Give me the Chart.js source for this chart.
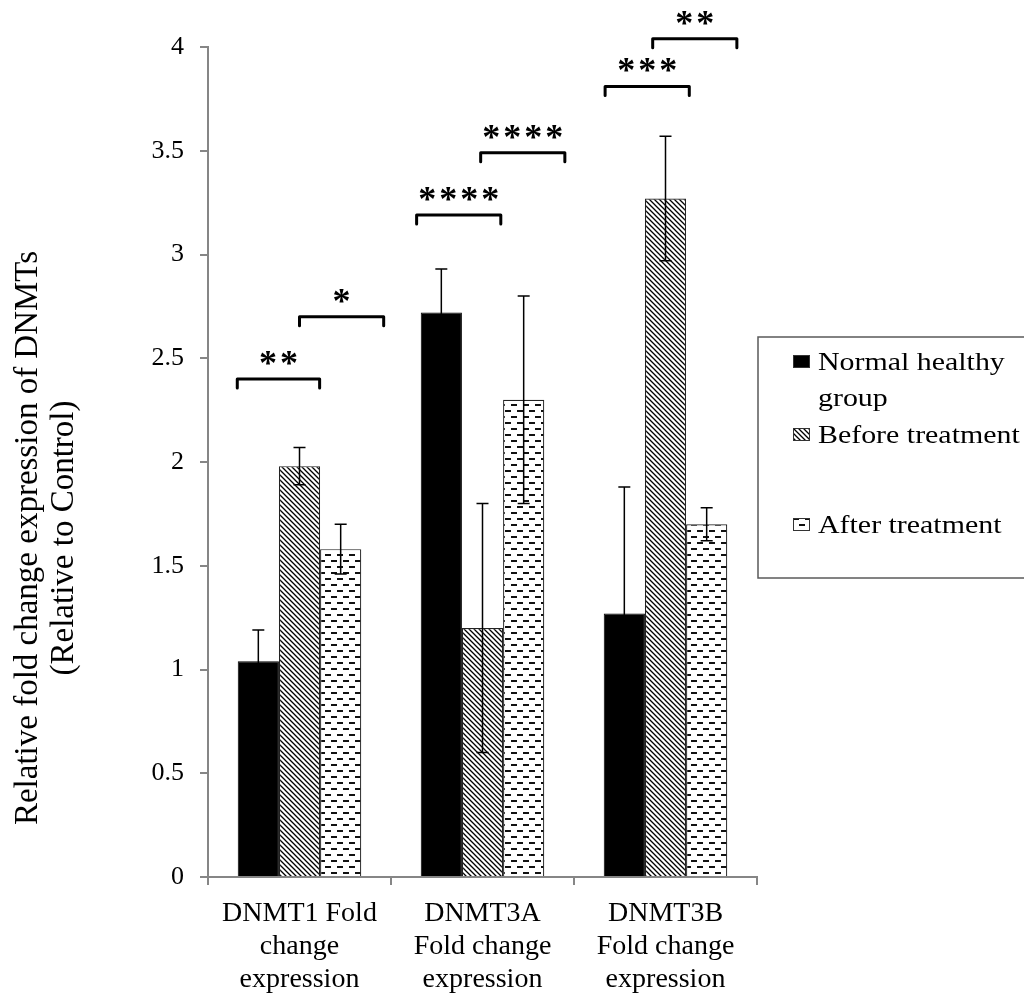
<!DOCTYPE html>
<html>
<head>
<meta charset="utf-8">
<title>DNMT fold change</title>
<script src="https://cdn.jsdelivr.net/npm/chart.js@4.4.1/dist/chart.umd.min.js"></script>
<style>
  html, body { margin: 0; padding: 0; background: #fff; }
  #wrap { width: 1024px; height: 999px; }
</style>
</head>
<body>
<div id="wrap"><canvas id="chart" width="1024" height="999"></canvas></div>
<script>
// -- Data --
const categories = [
  ['DNMT1 Fold', 'change', 'expression'],
  ['DNMT3A', 'Fold change', 'expression'],
  ['DNMT3B', 'Fold change', 'expression']
];
const seriesNames = ['Normal healthy group', 'Before treatment', 'After treatment'];
const legendLines = [['Normal healthy', 'group'], ['Before treatment'], ['After treatment']];
const normalValues = [1.04, 2.72, 1.27];
const normalErrors = [0.15, 0.21, 0.61];
const beforeValues = [1.98, 1.20, 3.27];
const beforeErrors = [0.09, 0.60, 0.30];
const afterValues = [1.58, 2.30, 1.70];
const afterErrors = [0.12, 0.50, 0.08];
const yTicks = [0, 0.5, 1, 1.5, 2, 2.5, 3, 3.5, 4];
const yTitleLines = ['Relative fold change expression of DNMTs', '(Relative to Control)'];

// significance brackets: category, start / end (category widths from its centre), height, stars
const bracketCategory = [0, 0, 1, 1, 2, 2];
const bracketFrom = [-0.34, 0.00, -0.36, -0.01, -0.33, -0.07];
const bracketTo = [0.11, 0.46, 0.10, 0.45, 0.13, 0.39];
const bracketLevel = [2.40, 2.70, 3.19, 3.49, 3.81, 4.04];
const bracketStars = ['**', '*', '****', '****', '***', '**'];

const AXIS_GREY = '#868686';
const SERIF = '"Liberation Serif", "Times New Roman", serif';

// -- Fill patterns --
function makeHatch(ctx) {
  const c = document.createElement('canvas');
  c.width = 5; c.height = 5;
  const g = c.getContext('2d');
  g.fillStyle = '#fff';
  g.fillRect(0, 0, 5, 5);
  g.strokeStyle = '#000';
  g.lineWidth = 1.3;
  g.beginPath();
  g.moveTo(-1, -1); g.lineTo(6, 6);
  g.moveTo(-1, 4); g.lineTo(1, 6);
  g.moveTo(4, -1); g.lineTo(6, 1);
  g.stroke();
  return ctx.createPattern(c, 'repeat');
}

function makeDashes(ctx) {
  const c = document.createElement('canvas');
  c.width = 12; c.height = 12;
  const g = c.getContext('2d');
  g.fillStyle = '#fff';
  g.fillRect(0, 0, 12, 12);
  g.fillStyle = '#111';
  g.fillRect(1, 2, 6, 2);
  g.fillRect(7, 8, 5, 2);
  g.fillRect(0, 8, 1, 2);
  return ctx.createPattern(c, 'repeat');
}

// -- Plugins --
const errorBarPlugin = {
  id: 'errorBars',
  afterDatasetsDraw(chart) {
    const ctx = chart.ctx;
    const y = chart.scales.y;
    ctx.save();
    ctx.strokeStyle = '#000';
    ctx.lineWidth = 1.5;
    chart.data.datasets.forEach((ds, i) => {
      chart.getDatasetMeta(i).data.forEach((bar, j) => {
        const v = ds.data[j], e = ds.errors[j];
        const top = y.getPixelForValue(v + e);
        const bottom = y.getPixelForValue(v - e);
        ctx.beginPath();
        ctx.moveTo(bar.x, top); ctx.lineTo(bar.x, bottom);
        ctx.moveTo(bar.x - 6, top); ctx.lineTo(bar.x + 6, top);
        ctx.moveTo(bar.x - 6, bottom); ctx.lineTo(bar.x + 6, bottom);
        ctx.stroke();
      });
    });
    ctx.restore();
  }
};

const bracketPlugin = {
  id: 'brackets',
  afterDraw(chart) {
    const ctx = chart.ctx;
    const x = chart.scales.x, y = chart.scales.y;
    const catW = (x.right - x.left) / categories.length;
    ctx.save();
    ctx.strokeStyle = '#000';
    ctx.fillStyle = '#000';
    ctx.lineWidth = 3;
    ctx.lineJoin = 'round';
    ctx.lineCap = 'round';
    ctx.font = 'bold 36px ' + SERIF;
    ctx.textAlign = 'center';
    ctx.textBaseline = 'alphabetic';
    const m = ctx.measureText('*');
    const lift = (m.actualBoundingBoxAscent - m.actualBoundingBoxDescent) / 2;
    bracketCategory.forEach((cat, i) => {
      const cx = x.getPixelForValue(cat);
      const x1 = cx + bracketFrom[i] * catW;
      const x2 = cx + bracketTo[i] * catW;
      const yy = y.getPixelForValue(bracketLevel[i]);
      ctx.beginPath();
      ctx.moveTo(x1, yy + 9);
      ctx.lineTo(x1, yy);
      ctx.lineTo(x2, yy);
      ctx.lineTo(x2, yy + 9);
      ctx.stroke();
      const stars = bracketStars[i];
      const gap = 21;
      const start = (x1 + x2) / 2 - (stars.length - 1) * gap / 2;
      for (let k = 0; k < stars.length; k++) {
        ctx.fillText('*', start + k * gap, yy - 21 + lift);
      }
    });
    ctx.restore();
  }
};

const boxLegendPlugin = {
  id: 'boxLegend',
  afterDraw(chart) {
    const ctx = chart.ctx;
    const left = chart.chartArea.right + 1;
    const top = 337, bottom = 578;
    ctx.save();
    ctx.strokeStyle = '#5a5a5a';
    ctx.lineWidth = 1.5;
    ctx.strokeRect(left, top, 1040 - left, bottom - top);

    const baselines = [370, 443, 533];
    ctx.font = '26px ' + SERIF;
    ctx.textAlign = 'left';
    ctx.textBaseline = 'alphabetic';
    chart.data.datasets.forEach((ds, i) => {
      const base = baselines[i];
      ctx.fillStyle = ds.backgroundColor;
      ctx.fillRect(793, base - 15, 17, 13);
      ctx.strokeStyle = '#333';
      ctx.lineWidth = 1;
      ctx.strokeRect(793.5, base - 14.5, 16, 12);
      ctx.fillStyle = '#000';
      legendLines[i].forEach((line, k) => {
        ctx.save();
        ctx.translate(818, base + k * 36);
        ctx.scale(1.15, 1);
        ctx.fillText(line, 0, 0);
        ctx.restore();
      });
    });
    ctx.restore();
  }
};

const yTitlePlugin = {
  id: 'yTitle',
  afterDraw(chart) {
    const ctx = chart.ctx;
    ctx.save();
    ctx.fillStyle = '#000';
    ctx.font = '33px ' + SERIF;
    ctx.textAlign = 'center';
    ctx.textBaseline = 'alphabetic';
    yTitleLines.forEach((t, k) => {
      ctx.save();
      ctx.translate(37 + k * 36, 538);
      ctx.rotate(-Math.PI / 2);
      ctx.fillText(t, 0, 0);
      ctx.restore();
    });
    ctx.restore();
  }
};

// -- Chart --
const canvas = document.getElementById('chart');
const ctx = canvas.getContext('2d');

new Chart(ctx, {
  type: 'bar',
  data: {
    labels: categories,
    datasets: [
      {
        label: seriesNames[0],
        data: normalValues,
        errors: normalErrors,
        backgroundColor: '#000',
        borderColor: '#000',
        borderWidth: 1
      },
      {
        label: seriesNames[1],
        data: beforeValues,
        errors: beforeErrors,
        backgroundColor: makeHatch(ctx),
        borderColor: '#222',
        borderWidth: 1.2
      },
      {
        label: seriesNames[2],
        data: afterValues,
        errors: afterErrors,
        backgroundColor: makeDashes(ctx),
        borderColor: '#222',
        borderWidth: 1.2
      }
    ]
  },
  options: {
    responsive: false,
    animation: false,
    layout: { padding: { top: 47, right: 267, bottom: 0, left: 0 } },
    datasets: {
      bar: { categoryPercentage: 0.675, barPercentage: 1.0 }
    },
    plugins: {
      legend: { display: false },
      tooltip: { enabled: false }
    },
    scales: {
      x: {
        grid: {
          offset: true,
          drawOnChartArea: false,
          tickLength: 8,
          color: AXIS_GREY,
          lineWidth: 2
        },
        border: { color: AXIS_GREY, width: 2 },
        ticks: {
          color: '#000',
          padding: 12,
          maxRotation: 0,
          font: { family: SERIF, size: 28, lineHeight: 1.18 }
        },
        afterFit(scale) { scale.height = 122; }
      },
      y: {
        min: 0,
        max: 4,
        afterBuildTicks(scale) {
          scale.ticks = yTicks.map(v => ({ value: v }));
        },
        grid: {
          drawOnChartArea: false,
          tickLength: 8,
          color: AXIS_GREY,
          lineWidth: 2
        },
        border: { color: AXIS_GREY, width: 2 },
        ticks: {
          color: '#000',
          padding: 16,
          font: { family: SERIF, size: 26 },
          callback: v => String(v)
        },
        afterFit(scale) { scale.width = 208; }
      }
    }
  },
  plugins: [errorBarPlugin, bracketPlugin, boxLegendPlugin, yTitlePlugin]
});
</script>
</body>
</html>
